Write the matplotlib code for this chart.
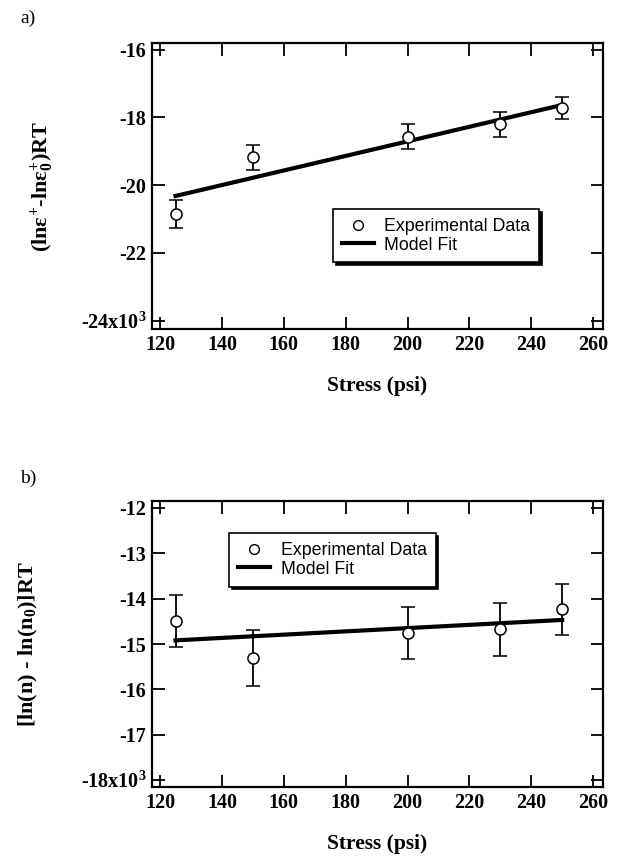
import numpy as np
import matplotlib
matplotlib.use("Agg")
import matplotlib.pyplot as plt

# stress levels (psi)
stress = [125, 150, 200, 230, 250]

# panel a: (ln e+ - ln e+_0)RT, in units of 10^3
a_vals = [-20.85, -19.18, -18.57, -18.20, -17.72]
a_err = [0.42, 0.38, 0.37, 0.37, 0.33]
a_fit_x = [125, 250]
a_fit_y = [-20.32, -17.63]
a_yticks = [-24, -22, -20, -18, -16]
a_yticklabels = ['-24x10$^3$', '-22', '-20', '-18', '-16']

# panel b: [ln(n) - ln(n_0)]RT, in units of 10^3
b_vals = [-14.49, -15.31, -14.76, -14.68, -14.24]
b_err = [0.58, 0.62, 0.57, 0.58, 0.56]
b_fit_x = [125, 250]
b_fit_y = [-14.92, -14.47]
b_yticks = [-18, -17, -16, -15, -14, -13, -12]
b_yticklabels = ['-18x10$^3$', '-17', '-16', '-15', '-14', '-13', '-12']

xticks = [120, 140, 160, 180, 200, 220, 240, 260]

plt.rcParams['mathtext.fontset'] = 'custom'
plt.rcParams['mathtext.rm'] = 'Liberation Serif:bold'
plt.rcParams['mathtext.it'] = 'Liberation Serif:bold'
plt.rcParams['mathtext.bf'] = 'Liberation Serif:bold'

serif = dict(family='Liberation Serif', weight='bold')

fig = plt.figure(figsize=(6.18, 8.56), dpi=100)
W, H = 618, 856


def make_axes(top, bottom):
    left, right = 152, 603
    return fig.add_axes([left / W, 1 - bottom / H, (right - left) / W, (bottom - top) / H])


def style_axes(ax, yticks, yticklabels, ylim):
    ax.set_xlim(117.4, 263.2)
    ax.set_ylim(*ylim)
    ax.set_xticks(xticks)
    ax.set_xticklabels([str(x) for x in xticks], fontdict=serif, fontsize=14.5)
    ax.set_yticks(yticks)
    ax.set_yticklabels(yticklabels, fontdict=serif, fontsize=14.5)
    ax.tick_params(direction='in', length=9, width=1.3, top=True, right=True, pad=4)
    for s in ax.spines.values():
        s.set_linewidth(1.6)
    ax.set_xlabel('Stress (psi)', fontdict=serif, fontsize=15.5)


def draw_panel(ax, vals, err, fit_x, fit_y, legend_anchor):
    ax.errorbar(stress, vals, yerr=err, fmt='o', mfc='white', mec='black', ms=8, mew=1.1,
                ecolor='black', elinewidth=1.3, capsize=5, capthick=1.3,
                label='Experimental Data', zorder=3)
    ax.plot(fit_x, fit_y, color='black', lw=3, label='Model Fit', zorder=2)
    handles, labels = ax.get_legend_handles_labels()
    # errorbar container -> plain marker handle for the legend
    h_data = plt.Line2D([], [], ls='none', marker='o', mfc='white', mec='black', ms=7, mew=1)
    leg = ax.legend([h_data, handles[0]], ['Experimental Data', 'Model Fit'],
                    loc='upper left', bbox_to_anchor=legend_anchor,
                    prop=dict(family='Liberation Sans', size=12.8),
                    fancybox=False, framealpha=1, edgecolor='black',
                    shadow={'facecolor': 'black', 'edgecolor': 'black', 'alpha': 1},
                    handlelength=1.8, handletextpad=0.6, borderpad=0.5,
                    labelspacing=0.1, borderaxespad=0)
    leg.get_frame().set_linewidth(1.2)


# panel a
ax1 = make_axes(43, 329)
style_axes(ax1, a_yticks, a_yticklabels, (-24.25, -15.8))
draw_panel(ax1, a_vals, a_err, a_fit_x, a_fit_y, (0.401, 0.42))
ax1.set_ylabel(r'(ln$ε^{+}$-ln$ε^{+}_{0}$)RT', fontdict=serif, fontsize=16)
ax1.yaxis.set_label_coords(-0.211, 0.5)
ax1.xaxis.set_label_coords(0.5, -0.165)

# panel b
ax2 = make_axes(501, 787)
style_axes(ax2, b_yticks, b_yticklabels, (-18.15, -11.85))
draw_panel(ax2, b_vals, b_err, b_fit_x, b_fit_y, (0.171, 0.888))
ax2.set_ylabel(r'[ln(n) - ln(n$_{0}$)]RT', fontdict=serif, fontsize=16)
ax2.yaxis.set_label_coords(-0.248, 0.5)
ax2.xaxis.set_label_coords(0.5, -0.165)

fig.text(20 / W, 1 - 18 / H, 'a)', family='Liberation Serif', fontsize=14, va='center')
fig.text(20 / W, 1 - 478 / H, 'b)', family='Liberation Serif', fontsize=14, va='center')

fig.savefig('out.png', dpi=100)
